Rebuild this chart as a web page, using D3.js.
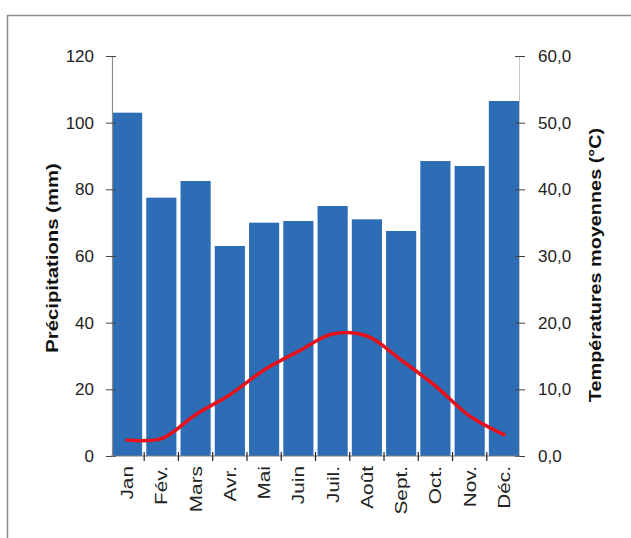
<!DOCTYPE html>
<html>
<head>
<meta charset="utf-8">
<script src="https://cdn.jsdelivr.net/npm/d3@7"></script>
<style>
  html, body { margin: 0; padding: 0; background: #fff; }
  svg { display: block; font-family: "Liberation Sans", Arial, sans-serif; }
</style>
</head>
<body>
<svg id="chart" width="631" height="538"></svg>
<script>
// Climogramme : précipitations mensuelles (barres) et températures moyennes (courbe)
const months = ["Jan", "Fév.", "Mars", "Avr.", "Mai", "Juin", "Juil.", "Août", "Sept.", "Oct.", "Nov.", "Déc."];
const precipitation = [103, 77.5, 82.5, 63, 70, 70.5, 75, 71, 67.5, 88.5, 87, 106.5];
const temperature = [2.4, 2.6, 6.2, 9.2, 12.9, 15.7, 18.3, 18.0, 14.4, 10.5, 6.0, 3.2];
const precipTicks = [0, 20, 40, 60, 80, 100, 120];
const tempTicks = [0, 10, 20, 30, 40, 50, 60];

const svg = d3.select("#chart");
const plotLeft = 112, plotRight = 519, plotTop = 56, plotBottom = 456;

// Cadre
svg.append("rect")
  .attr("x", 7.5).attr("y", 15.5).attr("width", 700).attr("height", 600)
  .attr("fill", "#fff").attr("stroke", "#8c8c8c").attr("stroke-width", 1.5);

const x = d3.scaleBand().domain(months).range([plotLeft, plotRight])
  .paddingInner(0.12).paddingOuter(0);
const yP = d3.scaleLinear().domain([0, 120]).range([plotBottom, plotTop]);
const yT = d3.scaleLinear().domain([0, 60]).range([plotBottom, plotTop]);

// Barres de précipitations
svg.append("g").selectAll("rect")
  .data(months.map((m, i) => ({ m, v: precipitation[i] })))
  .join("rect")
  .attr("x", d => x(d.m))
  .attr("width", x.bandwidth())
  .attr("y", d => yP(d.v))
  .attr("height", d => yP(0) - yP(d.v))
  .attr("fill", "#2c6db5");

// Axe gauche
const fmtLeft = d3.format("d");
const gL = svg.append("g").attr("transform", `translate(${plotLeft},0)`)
  .call(d3.axisLeft(yP).tickValues(precipTicks).tickFormat(fmtLeft).tickSizeOuter(0).tickSize(6).tickPadding(12));
gL.select(".domain").attr("stroke", "#8c8c8c").attr("stroke-width", 1.2);
gL.selectAll(".tick line").attr("stroke", "#444").attr("x2", -6).attr("x1", 4);
gL.selectAll(".tick text").attr("font-size", 17).attr("fill", "#222");

// Axe droit
const fmtRight = v => d3.format(".1f")(v).replace(".", ",");
const gR = svg.append("g").attr("transform", `translate(${plotRight},0)`)
  .call(d3.axisRight(yT).tickValues(tempTicks).tickFormat(fmtRight).tickSizeOuter(0).tickSize(6).tickPadding(13));
gR.select(".domain").attr("stroke", "#c8c8c8").attr("stroke-width", 1);
gR.selectAll(".tick line").attr("stroke", "#444").attr("x1", -4).attr("x2", 6);
gR.selectAll(".tick text").attr("font-size", 17).attr("fill", "#222");

// Axe des mois
const gX = svg.append("g").attr("transform", `translate(0,${plotBottom})`);
gX.append("line").attr("x1", plotLeft - 1).attr("x2", plotRight + 1)
  .attr("stroke", "#7a7a7a").attr("stroke-width", 1.2);
const step = x.step();
const boundaries = months.slice(1).map(m => x(m) - (step - x.bandwidth()) / 2);
gX.selectAll("line.sep").data(boundaries).join("line").attr("class", "sep")
  .attr("x1", d => d).attr("x2", d => d).attr("y1", -4).attr("y2", 5)
  .attr("stroke", "#222").attr("stroke-width", 1.2);
gX.selectAll("text").data(months).join("text")
  .attr("transform", d => `translate(${x(d) + x.bandwidth() / 2 + 6},10) rotate(-90) scale(1.3,1)`)
  .attr("text-anchor", "end")
  .attr("font-size", 16).attr("fill", "#222")
  .text(d => d);

// Courbe des températures
const line = d3.line()
  .x((d, i) => x(months[i]) + x.bandwidth() / 2)
  .y(d => yT(d))
  .curve(d3.curveCatmullRom.alpha(0.5));
svg.append("path").datum(temperature)
  .attr("d", line)
  .attr("fill", "none").attr("stroke", "#e3121d")
  .attr("stroke-width", 3.6).attr("stroke-linecap", "round");

// Titres des axes
svg.append("text")
  .attr("transform", "translate(58,258) rotate(-90) scale(1.27,1)")
  .attr("text-anchor", "middle").attr("font-size", 16).attr("font-weight", "bold").attr("fill", "#111")
  .text("Précipitations (mm)");
svg.append("text")
  .attr("transform", "translate(601,265) rotate(-90) scale(1.24,1)")
  .attr("text-anchor", "middle").attr("font-size", 16).attr("font-weight", "bold").attr("fill", "#111")
  .text("Températures moyennes (°C)");
</script>
</body>
</html>
